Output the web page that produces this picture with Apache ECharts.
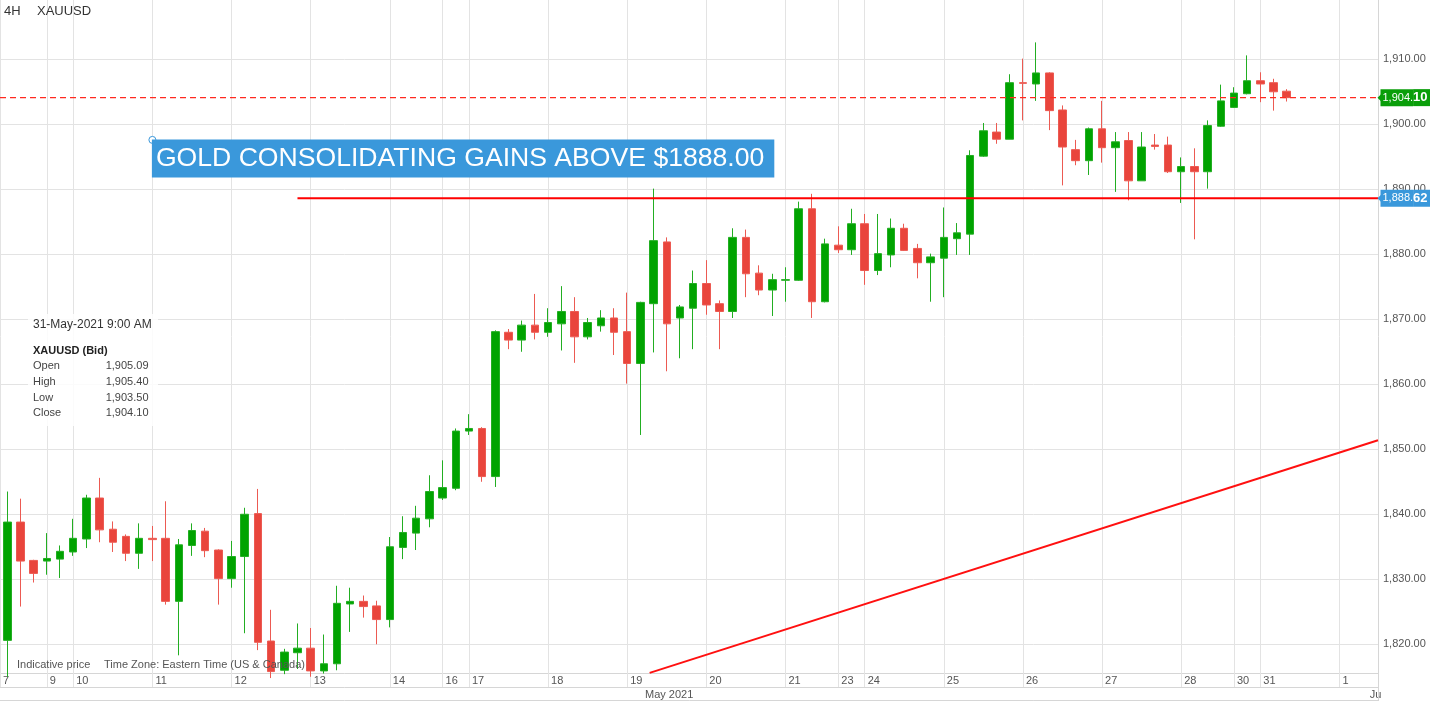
<!DOCTYPE html>
<html><head><meta charset="utf-8">
<script src="https://cdn.jsdelivr.net/npm/echarts@6/dist/echarts.min.js"></script>
<style>html,body{margin:0;padding:0;background:#fff}#c{width:1430px;height:701px}</style>
</head><body><div id="c"></div>
<script>
// ---- data (4H candles, slot index starts at FIRST_SLOT) ----
const FIRST_SLOT = 1;
const OPEN  = [1820.6,1838.8,1832.9,1832.8,1833.1,1834.2,1836.2,1842.5,1837.7,1836.6,1834.0,1836.3,1836.3,1826.6,1835.2,1837.4,1834.5,1830.1,1833.5,1840.1,1820.5,1816.0,1818.7,1819.4,1815.9,1817.0,1826.2,1826.6,1825.9,1823.8,1834.9,1837.1,1839.3,1842.5,1844.0,1852.8,1853.2,1845.8,1868.0,1866.8,1869.1,1868.0,1869.3,1871.2,1867.3,1869.0,1870.2,1868.1,1863.2,1872.4,1881.9,1870.2,1871.7,1875.5,1872.4,1871.2,1882.6,1877.1,1874.5,1876.0,1876.0,1887.0,1872.7,1881.4,1880.7,1884.7,1877.5,1879.9,1884.0,1880.9,1878.7,1879.4,1882.4,1883.1,1895.1,1898.8,1897.7,1906.4,1906.2,1907.9,1902.2,1896.1,1894.4,1899.3,1896.4,1897.5,1891.3,1896.8,1896.8,1892.7,1893.5,1892.7,1899.7,1902.6,1904.7,1906.7,1906.4,1905.09];
const CLOSE = [1838.8,1832.8,1830.9,1833.2,1834.3,1836.3,1842.5,1837.6,1835.7,1834.0,1836.3,1836.1,1826.6,1835.3,1837.5,1834.4,1830.1,1833.5,1840.0,1820.3,1815.8,1818.8,1819.4,1815.9,1817.0,1826.3,1826.6,1825.8,1823.8,1835.0,1837.2,1839.4,1843.5,1844.1,1852.8,1853.2,1845.8,1868.1,1866.8,1869.1,1868.0,1869.5,1871.2,1867.3,1869.5,1870.2,1868.0,1863.2,1872.6,1882.1,1869.3,1871.9,1875.5,1872.2,1871.2,1882.6,1877.0,1874.5,1876.1,1876.1,1887.0,1872.7,1881.6,1880.7,1884.7,1877.5,1880.1,1884.0,1880.6,1878.7,1879.6,1882.6,1883.3,1895.2,1899.0,1897.7,1906.4,1906.3,1907.9,1902.1,1896.5,1894.4,1899.3,1896.4,1897.3,1891.3,1896.5,1896.6,1892.7,1893.5,1892.7,1899.8,1903.6,1904.8,1906.7,1906.2,1905.0,1904.10];
const LOW   = [1815.0,1825.8,1829.5,1830.7,1830.2,1833.6,1834.8,1835.7,1834.2,1832.8,1831.6,1832.8,1826.1,1818.3,1833.6,1833.4,1826.1,1828.7,1821.7,1819.1,1814.8,1815.4,1816.2,1815.0,1815.5,1816.0,1821.9,1824.1,1820.0,1822.6,1833.1,1834.5,1838.0,1842.2,1843.7,1852.2,1845.0,1844.2,1865.4,1865.0,1866.9,1867.3,1865.2,1863.3,1866.9,1868.1,1864.5,1860.1,1852.2,1864.9,1862.0,1864.0,1865.4,1870.7,1865.4,1870.2,1873.4,1873.7,1870.5,1872.7,1875.9,1870.2,1872.6,1880.2,1879.9,1875.3,1876.8,1878.0,1880.5,1876.3,1872.7,1873.4,1879.9,1879.9,1895.0,1897.0,1897.7,1900.6,1903.6,1899.1,1890.6,1893.7,1892.2,1894.1,1889.6,1888.3,1891.3,1896.1,1892.5,1887.9,1882.3,1890.1,1899.6,1902.5,1904.6,1903.4,1902.1,1903.50];
const HIGH  = [1843.5,1842.4,1833.0,1837.1,1835.2,1839.3,1843.0,1845.6,1838.9,1836.9,1838.6,1838.2,1842.0,1836.2,1838.6,1837.9,1834.6,1835.9,1841.0,1843.9,1825.3,1819.3,1823.2,1822.5,1821.5,1829.0,1828.7,1827.5,1826.7,1836.5,1839.7,1841.3,1846.0,1848.3,1853.2,1855.4,1853.4,1868.3,1868.5,1869.8,1873.9,1871.7,1875.1,1873.4,1870.2,1871.4,1871.7,1874.1,1872.7,1890.1,1882.6,1872.2,1877.5,1879.1,1872.9,1884.0,1883.8,1878.3,1877.0,1878.0,1888.1,1889.3,1882.4,1884.3,1887.0,1886.2,1886.2,1885.5,1884.7,1881.6,1880.1,1887.2,1884.8,1896.0,1900.2,1900.2,1907.7,1910.1,1912.6,1908.0,1902.9,1897.6,1899.5,1903.6,1898.8,1898.8,1898.8,1898.5,1898.1,1894.9,1896.3,1900.6,1906.1,1905.7,1910.6,1908.0,1907.0,1905.40];

const DAY_LABELS = ['7','9','10','11','12','13','14','16','17','18','19','20','21','23','24','25','26','27','28','30','31','1'];
const DAY_SLOTS  = [0,4,6,12,18,24,30,34,36,42,48,54,60,64,66,72,78,84,90,94,96,102];
const MONTH_LABELS = ['May 2021','June'];
const MONTH_SLOTS  = [49.35,104.3];
const Y_TICKS = [1820,1830,1840,1850,1860,1870,1880,1890,1900,1910];

const LEVEL = 1888.62;
const LEVEL_START_SLOT = 23;
const TREND_FROM = [49.7, 1815.6];
const TREND_TO   = [104.92, 1851.4];
const LAST_TIME = '31-May-2021 9:00 AM';
const SYMBOL_TITLE = 'XAUUSD (Bid)';
const ANNOT_TEXT = 'GOLD CONSOLIDATING GAINS ABOVE $1888.00';
const ANNOT_AT = [12, 1897.6];

// ---- view ----
const X_MIN = 0.447, X_MAX = 104.92;
const Y_MIN = 1815.58, Y_MAX = 1919.12;
const GRID = '#e3e3e3', AXIS = '#d6d6d6', TXT = '#555';
const UP = '#00a300', DOWN = '#e9453c';
const FONT = '"Liberation Sans", Arial, sans-serif';

const fmt = v => Number(v).toLocaleString('en-US', {minimumFractionDigits: 2, maximumFractionDigits: 2});
const n = OPEN.length;
const LAST = {o: OPEN[n-1], h: HIGH[n-1], l: LOW[n-1], c: CLOSE[n-1]};

const candles = OPEN.map((o, i) => [FIRST_SLOT + i, o, CLOSE[i], LOW[i], HIGH[i]]);
const daySlotsClamped = DAY_SLOTS.map(s => Math.max(s, X_MIN));
function nearest(slots, labels, v) {
  let best = 0, bd = 1e9;
  slots.forEach((s, i) => { const d = Math.abs(s - v); if (d < bd) { bd = d; best = i; } });
  return labels[best];
}
function badge(value, color) {
  const s = fmt(value);
  const dot = s.lastIndexOf('.');
  return {
    coord: [X_MAX, value], symbol: 'circle', symbolSize: 1,
    itemStyle: {color: 'rgba(0,0,0,0)'},
    label: {
      show: true, position: 'right', distance: 2,
      formatter: '{a|' + s.slice(0, dot + 1) + '}{b|' + s.slice(dot + 1) + '}',
      rich: {
        a: {color: '#fff', backgroundColor: color, fontSize: 11, fontFamily: FONT, height: 17, lineHeight: 17, padding: [0, 0, 0, 2]},
        b: {color: '#fff', backgroundColor: color, fontSize: 13, fontWeight: 'bold', fontFamily: FONT, height: 17, lineHeight: 17, padding: [0, 3, 0, 0]}
      }
    }
  };
}
function arrow(value, color) {
  return {coord: [X_MAX, value], symbol: 'triangle', symbolSize: [10, 5], symbolRotate: 90, symbolOffset: [2, 0],
          itemStyle: {color: color}, label: {show: false}};
}
function segment(points, style, z) {
  return {type: 'line', xAxisIndex: 0, yAxisIndex: 0, data: points, silent: true, z: z || 3,
          showSymbol: false, symbol: 'none', lineStyle: style, emphasis: {disabled: true}};
}

const chart = echarts.init(document.getElementById('c'), null, {renderer: 'canvas'});
chart.setOption({
  animation: false,
  backgroundColor: '#fff',
  textStyle: {fontFamily: FONT},
  grid: {left: 0, right: 52, top: 0, bottom: 28, containLabel: false},
  xAxis: [{
    type: 'value', min: X_MIN, max: X_MAX, position: 'bottom',
    axisLine: {show: true, onZero: false, lineStyle: {color: AXIS}},
    axisTick: {show: true, customValues: daySlotsClamped, length: 14, lineStyle: {color: GRID}},
    axisLabel: {customValues: daySlotsClamped, formatter: v => nearest(daySlotsClamped, DAY_LABELS, v), align: 'left',
                padding: [0, 0, 0, 3], margin: 2, fontSize: 11, color: TXT, fontFamily: FONT},
    splitLine: {show: true, lineStyle: {color: GRID}}
  }, {
    type: 'value', min: X_MIN, max: X_MAX, position: 'bottom', offset: 14,
    axisLine: {show: true, onZero: false, lineStyle: {color: AXIS}},
    axisTick: {show: false},
    axisLabel: {customValues: MONTH_SLOTS, formatter: v => nearest(MONTH_SLOTS, MONTH_LABELS, v), align: 'left', margin: 2,
                fontSize: 11, color: TXT, fontFamily: FONT},
    splitLine: {show: false}
  }],
  yAxis: [{
    type: 'value', min: Y_MIN, max: Y_MAX, position: 'right', splitNumber: 10,
    axisLine: {show: true, lineStyle: {color: AXIS}},
    axisTick: {show: false, customValues: Y_TICKS},
    axisLabel: {customValues: Y_TICKS, formatter: v => fmt(v), margin: 5, fontSize: 11, color: TXT,
                fontFamily: FONT, padding: [0, 0, 4, 0]},
    splitLine: {show: true, lineStyle: {color: GRID}}
  }],
  series: [{
    type: 'candlestick', xAxisIndex: 0, yAxisIndex: 0,
    data: candles, encode: {x: 0, y: [1, 2, 3, 4]},
    barWidth: 8,
    itemStyle: {color: UP, color0: DOWN, borderColor: '#22ae22', borderColor0: '#ec5a52', borderWidth: 1}
  },
  segment([[X_MIN, LAST.c], [X_MAX, LAST.c]], {color: '#ff2a20', width: 1.3, type: [6, 4]}),
  segment([[LEVEL_START_SLOT, LEVEL], [X_MAX, LEVEL]], {color: '#ff0000', width: 2, type: 'solid'}),
  segment([TREND_FROM, TREND_TO], {color: '#ff1010', width: 2, type: 'solid'}),
  {
    type: 'line', xAxisIndex: 0, yAxisIndex: 0, data: [], silent: true, z: 5,
    markPoint: {
      silent: true,
      data: [
        arrow(LAST.c, '#0a9e0a'), badge(LAST.c, '#0a9e0a'),
        arrow(LEVEL, '#3a98db'), badge(LEVEL, '#3a98db'),
        {coord: ANNOT_AT, symbol: 'circle', symbolSize: 7,
         itemStyle: {color: '#fff', borderColor: '#3a98db', borderWidth: 1},
         label: {show: true, position: [3.5, 3.5], align: 'left', verticalAlign: 'top',
                 formatter: ANNOT_TEXT, color: '#fff', backgroundColor: '#3a98db',
                 fontSize: 26.6, lineHeight: 26, fontFamily: FONT, padding: [6, 10, 6, 4]}}
      ]
    }
  }],
  graphic: [
    {type: 'text', left: 4, top: 5, z: 50, style: {text: '4H', font: '13px ' + FONT, fill: '#333'}},
    {type: 'text', left: 37, top: 5, z: 50, style: {text: 'XAUUSD', font: '13px ' + FONT, fill: '#333'}},
    {type: 'text', left: 17, top: 659, z: 50, style: {text: 'Indicative price', font: '11px ' + FONT, fill: TXT}},
    {type: 'text', left: 104, top: 659, z: 50, style: {text: 'Time Zone: Eastern Time (US & Canada)', font: '11px ' + FONT, fill: TXT}},
    {type: 'group', left: 28, top: 314, z: 50, children: [
      {type: 'rect', z: 50, shape: {x: 0, y: 0, width: 130, height: 112}, style: {fill: 'rgba(255,255,255,0.85)'}},
      {type: 'text', z: 51, x: 5, y: 11, style: {text: LAST_TIME, font: '12px ' + FONT, fill: '#333', verticalAlign: 'middle'}},
      {type: 'text', z: 51, x: 5, y: 36.5, style: {text: SYMBOL_TITLE, font: 'bold 11px ' + FONT, fill: '#222', verticalAlign: 'middle'}},
      {type: 'text', z: 51, x: 5, y: 51.5, style: {text: 'Open', font: '11px ' + FONT, fill: '#444', verticalAlign: 'middle'}},
      {type: 'text', z: 51, x: 5, y: 67.5, style: {text: 'High', font: '11px ' + FONT, fill: '#444', verticalAlign: 'middle'}},
      {type: 'text', z: 51, x: 5, y: 83.5, style: {text: 'Low', font: '11px ' + FONT, fill: '#444', verticalAlign: 'middle'}},
      {type: 'text', z: 51, x: 5, y: 98.5, style: {text: 'Close', font: '11px ' + FONT, fill: '#444', verticalAlign: 'middle'}},
      {type: 'text', z: 51, x: 120.5, y: 51.5, style: {text: fmt(LAST.o), font: '11px ' + FONT, fill: '#444', align: 'right', verticalAlign: 'middle'}},
      {type: 'text', z: 51, x: 120.5, y: 67.5, style: {text: fmt(LAST.h), font: '11px ' + FONT, fill: '#444', align: 'right', verticalAlign: 'middle'}},
      {type: 'text', z: 51, x: 120.5, y: 83.5, style: {text: fmt(LAST.l), font: '11px ' + FONT, fill: '#444', align: 'right', verticalAlign: 'middle'}},
      {type: 'text', z: 51, x: 120.5, y: 98.5, style: {text: fmt(LAST.c), font: '11px ' + FONT, fill: '#444', align: 'right', verticalAlign: 'middle'}}
    ]},
    {type: 'rect', z: 100, left: 1381, top: 688, shape: {width: 50, height: 12}, style: {fill: '#fff'}},
    {type: 'line', z: 100, shape: {x1: 1378.5, y1: 673, x2: 1378.5, y2: 701}, style: {stroke: AXIS}},
    {type: 'line', z: 100, shape: {x1: 0, y1: 700.5, x2: 1378.5, y2: 700.5}, style: {stroke: AXIS}}
  ]
});
</script></body></html>
